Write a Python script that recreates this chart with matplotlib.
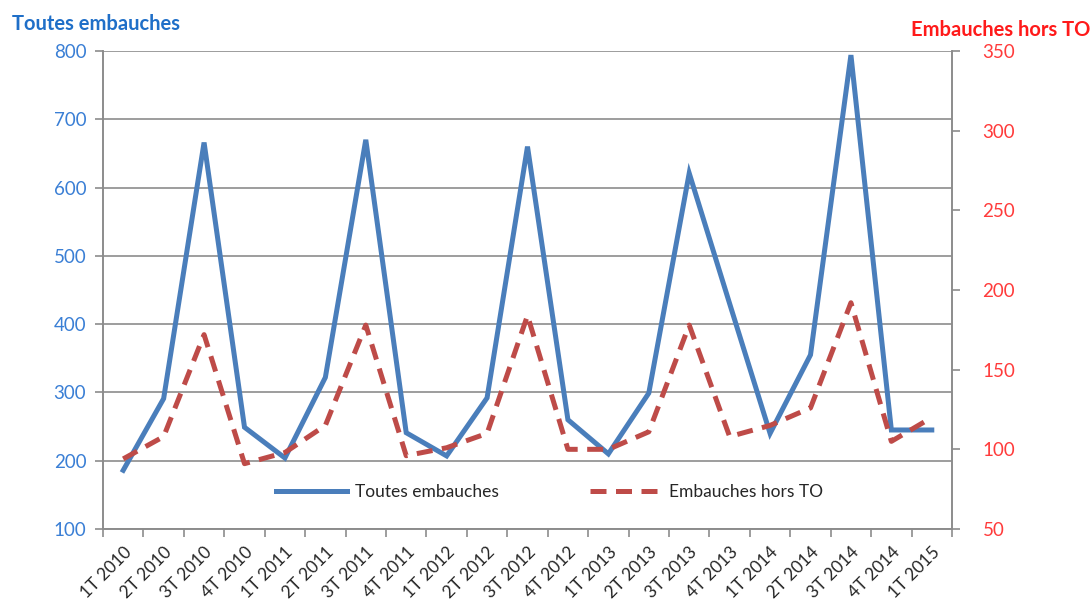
import matplotlib.pyplot as plt
import numpy as np

plt.rcParams['font.family'] = ['Lato', 'DejaVu Sans']

quarters = ['1T 2010', '2T 2010', '3T 2010', '4T 2010',
            '1T 2011', '2T 2011', '3T 2011', '4T 2011',
            '1T 2012', '2T 2012', '3T 2012', '4T 2012',
            '1T 2013', '2T 2013', '3T 2013', '4T 2013',
            '1T 2014', '2T 2014', '3T 2014', '4T 2014',
            '1T 2015']
toutes = [186, 291, 666, 249, 204, 322, 670, 241, 207, 292, 660, 260,
          210, 299, 621, 430, 240, 355, 794, 245, 245]
hors_to = [94, 108, 172, 91, 98, 115, 178, 96, 101, 110, 184, 100,
           100, 111, 178, 108, 115, 126, 192, 105, 120]

blue = '#4A7EBB'
red = '#BE4B48'
grid_col = '#8C8C8C'

fig = plt.figure(figsize=(10.92, 6.05), dpi=100)
ax = fig.add_axes([103 / 1092, 1 - 529 / 605, (952 - 103) / 1092, (529 - 51) / 605])
ax2 = ax.twinx()

x = np.arange(len(quarters))
l1, = ax.plot(x, toutes, color=blue, lw=3.6, solid_joinstyle='miter',
              label='Toutes embauches', zorder=3)
l2, = ax2.plot(x, hors_to, color=red, lw=3.6, dashes=(3.2, 1.9),
               label='Embauches hors TO', zorder=3)

ax.set_xlim(-0.5, len(quarters) - 0.5)
ax.set_ylim(100, 800)
ax.set_yticks(range(100, 801, 100))
ax2.set_ylim(50, 350)
ax2.set_yticks(range(50, 351, 50))

ax.yaxis.grid(True, color=grid_col, lw=1.2)
ax.set_axisbelow(True)

ax.set_xticks(x)
ax.set_xticklabels(quarters, rotation=45, ha='right', rotation_mode='anchor',
                   fontsize=12.5, color='#262626')
ax.set_xticks(np.arange(-0.5, len(quarters), 1), minor=True)
ax.tick_params(axis='x', which='major', length=0, pad=11)
ax.tick_params(axis='x', which='minor', length=6, color=grid_col, width=1.2)
ax.tick_params(axis='y', length=6, color=grid_col, width=1.2,
               labelcolor='#3A7FD5', labelsize=13.5, pad=6)
ax2.tick_params(axis='y', length=6, color=grid_col, width=1.2,
                labelcolor='#FF3B3B', labelsize=13.5, pad=16)

for a in (ax, ax2):
    a.spines['top'].set_visible(False)
    for s in ('left', 'right', 'bottom'):
        a.spines[s].set_color(grid_col)
        a.spines[s].set_linewidth(1.2)

fig.text(12 / 1092, 1 - 24 / 605, 'Toutes embauches', color='#1F6FC8',
         fontsize=14.5, fontweight='bold', va='center', ha='left')
fig.text(1090 / 1092, 1 - 30 / 605, 'Embauches hors TO', color='#FF1A1A',
         fontsize=14.5, fontweight='bold', va='center', ha='right')

ax.legend([l1, l2], ['Toutes embauches', 'Embauches hors TO'],
          loc='center', bbox_to_anchor=(0.526, 0.078), ncol=2, frameon=False,
          handlelength=4.1, columnspacing=5.3, handletextpad=0.45,
          prop={'size': 12.5}, labelcolor='#262626')

fig.savefig('out.png', dpi=100)
